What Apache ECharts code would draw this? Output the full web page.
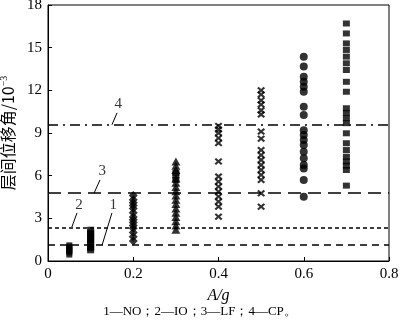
<!DOCTYPE html>
<html>
<head>
<meta charset="utf-8">
<script src="https://cdn.jsdelivr.net/npm/echarts@6/dist/echarts.min.js"></script>
<style>
  html, body { margin: 0; padding: 0; background: #fff; }
  #chart { width: 400px; height: 325px; }
</style>
</head>
<body>
<div id="chart"></div>
<script>
// drift values (10^-3) at each A/g level
const noX = 0.05;
const noVals = [0.45, 0.6, 0.7, 0.8, 0.9, 1.0, 1.1];
const ioX = 0.1;
const ioVals = [0.75, 0.9, 1.0, 1.2, 1.35, 1.5, 1.6, 1.75, 1.9, 2.0, 2.2];
const x02 = 0.2;
const vals02 = [1.4, 1.7, 2.0, 2.3, 2.5, 2.7, 2.9, 3.1, 3.4, 3.7, 3.9, 4.1, 4.3, 4.6];
const x03 = 0.3;
const tri03 = [2.2, 2.5, 2.8, 3.1, 3.4, 3.7, 4.0, 4.3, 4.6, 4.9, 5.2, 5.5, 5.8, 6.4, 6.7, 7.0];
const sq03 = [5.7, 6.0, 6.2];
const x04 = 0.4;
const cross04 = [9.5, 9.25, 9.0, 8.64, 8.29, 7.0, 5.94, 5.58, 5.23, 4.88, 4.53, 4.18, 3.82, 3.12];
const x05 = 0.5;
const cross05 = [12.0, 11.7, 11.3, 11.0, 10.6, 10.3, 9.1, 8.6, 7.8, 7.45, 7.1, 6.75, 6.4, 6.05, 5.7, 4.76, 3.82];
const x06 = 0.6;
const circ06 = [14.37, 13.67, 12.96, 12.6, 12.25, 11.9, 10.85, 10.27, 9.2, 8.86, 8.5, 8.16, 7.69, 7.22, 6.75, 6.5, 5.7, 4.52];
const x07 = 0.7;
const sq07 = [16.7, 16.0, 15.3, 14.84, 14.37, 13.9, 13.43, 12.6, 11.9, 10.74, 10.4, 10.04, 9.69, 8.98, 8.28, 7.8, 7.33, 7.0, 6.7, 6.4, 5.3];

// limit lines 1-NO, 2-IO, 3-LF, 4-CP
const limitVals = [1.13, 2.37, 4.77, 9.58];
const limitNames = ['1', '2', '3', '4'];

// leader lines for the labels [x0, y0, x1, y1, textX, textY]
const leaders = [
  [0.127, 1.13, 0.150, 3.38, 0.153, 3.95],
  [0.056, 2.39, 0.068, 3.38, 0.073, 3.95],
  [0.108, 4.77, 0.122, 5.7, 0.127, 6.3],
  [0.150, 9.58, 0.162, 10.42, 0.165, 11.0]
];

const xTicks = [0, 0.2, 0.4, 0.6, 0.8];
const yTicks = [0, 3, 6, 9, 12, 15, 18];

const crossPath = 'path://M0,2L2,0L5,3L8,0L10,2L7,5L10,8L8,10L5,7L2,10L0,8L3,5Z';

function pts(x, arr) {
  return arr.map(function (v) { return [x, v]; });
}

const font = '"Liberation Serif", "Times New Roman", serif';
const dashes = [[7, 5], [4, 3], [13, 7], [10, 5, 2, 5]];

const series = [
  { type: 'scatter', symbol: 'rect', symbolSize: [6, 6], data: pts(noX, noVals) },
  { type: 'scatter', symbol: 'rect', symbolSize: [7, 6], data: pts(ioX, ioVals) },
  { type: 'scatter', symbol: 'diamond', symbolSize: [9, 9], data: pts(x02, vals02) },
  { type: 'scatter', symbol: 'triangle', symbolSize: [9, 8], data: pts(x03, tri03) },
  { type: 'scatter', symbol: 'rect', symbolSize: [7, 6], data: pts(x03, sq03) },
  { type: 'scatter', symbol: crossPath, symbolSize: [8, 7], data: pts(x04, cross04) },
  { type: 'scatter', symbol: crossPath, symbolSize: [8, 7], data: pts(x05, cross05) },
  { type: 'scatter', symbol: 'circle', symbolSize: 8, data: pts(x06, circ06) },
  { type: 'scatter', symbol: 'rect', symbolSize: [7, 6], data: pts(x07, sq07) },
  {
    type: 'line', data: [], silent: true,
    markLine: {
      silent: true, symbol: 'none', label: { show: false },
      data: limitVals.map(function (v, i) {
        return { yAxis: v, lineStyle: { type: dashes[i], color: '#000', width: 1.5 } };
      })
    }
  }
];

leaders.forEach(function (l, i) {
  series.push({
    type: 'line', silent: true, symbol: 'none',
    lineStyle: { color: '#000', width: 1 },
    data: [[l[0], l[1]], [l[2], l[3]]]
  });
  series.push({
    type: 'scatter', silent: true, symbolSize: 0,
    label: {
      show: true, position: 'inside', formatter: limitNames[i],
      color: '#000', fontFamily: font, fontSize: 15
    },
    data: [[l[4], l[5]]]
  });
});

series.forEach(function (s) {
  if (s.type === 'scatter' && !s.itemStyle) s.itemStyle = { color: '#000' };
});

const chart = echarts.init(document.getElementById('chart'));
chart.setOption({
  animation: false,
  backgroundColor: '#fff',
  grid: {
    left: 48, right: 11, top: 5, bottom: 64,
    outerBoundsMode: 'none', containLabel: false,
    show: true, borderColor: '#000', borderWidth: 1
  },
  title: {
    text: '1—NO；2—IO；3—LF；4—CP。',
    left: 'center', bottom: 2,
    textStyle: { fontFamily: font, fontSize: 13, fontWeight: 'normal', color: '#000' }
  },
  xAxis: {
    type: 'value', min: 0, max: 0.8, interval: 0.2,
    name: 'A/g', nameLocation: 'middle', nameGap: 27,
    nameTextStyle: { fontFamily: font, fontSize: 16, fontStyle: 'italic', color: '#000' },
    axisLine: { onZero: false, lineStyle: { color: '#000', width: 1 } },
    axisTick: { inside: true, length: 4, lineStyle: { color: '#000' } },
    axisLabel: {
      fontFamily: font, fontSize: 15, color: '#000', margin: 6,
      formatter: function (v) {
        const t = xTicks.find(function (k) { return Math.abs(k - v) < 1e-9; });
        return t === 0 ? '0' : String(t);
      }
    },
    splitLine: { show: false }
  },
  yAxis: {
    type: 'value', min: 0, max: 18, interval: 3,
    name: '{a|层间位移角/10}{s|−3}', nameLocation: 'middle', nameGap: 26, nameRotate: 90,
    nameTextStyle: {
      color: '#000',
      rich: {
        a: { fontFamily: '"Noto Sans CJK SC", serif', fontSize: 16, color: '#000' },
        s: { fontFamily: font, fontSize: 10, color: '#000', verticalAlign: 'top', padding: [0, 0, 8, 0] }
      }
    },
    axisLine: { show: true, lineStyle: { color: '#000', width: 1 } },
    axisTick: { inside: true, length: 4, lineStyle: { color: '#000' } },
    axisLabel: {
      fontFamily: font, fontSize: 15, color: '#000', margin: 6,
      formatter: function (v) { return yTicks.indexOf(v) >= 0 ? String(v) : ''; }
    },
    splitLine: { show: false }
  },
  series: series
});
</script>
</body>
</html>
